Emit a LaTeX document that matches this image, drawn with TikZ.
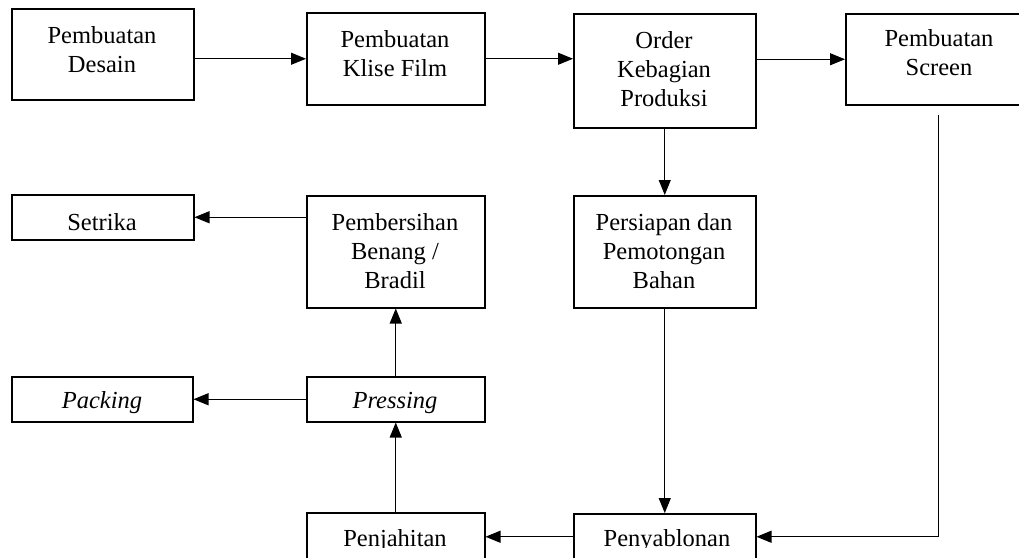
\documentclass[tikz,border=0pt]{standalone}
\usepackage{fontspec}
\setmainfont{Liberation Serif}
\usetikzlibrary{arrows.meta}
\begin{document}
\begin{tikzpicture}[x=1pt,y=-1pt,
  box/.style={draw=black, line width=1.5pt, rectangle, inner sep=0pt, anchor=north west},
  txt/.style={anchor=base, inner sep=0pt, font=\fontsize{24.5}{29}\selectfont},
  arr/.style={draw=black, line width=1.1pt, -{Triangle[length=15pt,width=12pt]}}]
\useasboundingbox (0,0) rectangle (1019,557);
\clip (0,0) rectangle (1019,557);
\fill[white] (0,0) rectangle (1019,557);

% process boxes
\node[box, minimum width=182pt, minimum height=91pt]  (b1)  at (11,8)    {};
\node[box, minimum width=178pt, minimum height=92pt]  (b2)  at (306,12)  {};
\node[box, minimum width=182pt, minimum height=114pt] (b3)  at (573,13)  {};
\node[box, minimum width=185pt, minimum height=91pt]  (b4)  at (845,13)  {};
\node[box, minimum width=182pt, minimum height=112pt] (b5)  at (573,195) {};
\node[box, minimum width=182pt, minimum height=46pt]  (b6)  at (573,513) {};
\node[box, minimum width=178pt, minimum height=48pt]  (b7)  at (306,512) {};
\node[box, minimum width=178pt, minimum height=45pt]  (b8)  at (306,376) {};
\node[box, minimum width=178pt, minimum height=112pt] (b9)  at (306,195) {};
\node[box, minimum width=181pt, minimum height=45pt]  (b10) at (11,376)  {};
\node[box, minimum width=182pt, minimum height=45pt]  (b11) at (11,194)  {};

% box texts
\node[txt] (t1)  at (102,43)  {\begin{tabular}[t]{@{}c@{}}Pembuatan\\Desain\end{tabular}};
\node[txt] (t2)  at (395,47)  {\begin{tabular}[t]{@{}c@{}}Pembuatan\\Klise Film\end{tabular}};
\node[txt] (t3)  at (664,48)  {\begin{tabular}[t]{@{}c@{}}Order\\Kebagian\\Produksi\end{tabular}};
\node[txt] (t4)  at (939,46)  {\begin{tabular}[t]{@{}c@{}}Pembuatan\\Screen\end{tabular}};
\node[txt] (t5)  at (664,230) {\begin{tabular}[t]{@{}c@{}}Persiapan dan\\Pemotongan\\Bahan\end{tabular}};
\node[txt] (t9)  at (395,230) {\begin{tabular}[t]{@{}c@{}}Pembersihan\\Benang /\\Bradil\end{tabular}};
\node[txt] (t11) at (102,230) {Setrika};
\node[txt] (t10) at (102,408) {\itshape Packing};
\node[txt] (t8)  at (395,408) {\itshape Pressing};
% the page edge cuts the bottom row just below its baseline
\begin{scope}
  \clip (0,0) rectangle (1019,547.5);
  \node[txt] (t6) at (667,546) {Penyablonan};
  \node[txt] (t7) at (395,546) {Penjahitan};
\end{scope}

% connectors
\draw[arr] (b2.west -| b1.east) -- (b2.west);
\draw[arr] (b2.east) -- (b2.east -| b3.west);
\draw[arr] (b4.west -| b3.east) -- (b4.west);
\draw[arr] (b3.south) -- (b5.north);
\draw[arr] (b5.south) -- (b6.north);
\coordinate (s0) at ([yshift=-9pt]b4.south);
\draw[arr] (s0) |- (b6.east);
\draw[arr] (b6.west) -- (b7.east);
\draw[arr] (b7.north) -- (b8.south);
\draw[arr] (b8.north) -- (b9.south);
\draw[arr] (b8.west) -- (b10.east);
\draw[arr] (b9.west |- b11.east) -- (b11.east);
\end{tikzpicture}
\end{document}
